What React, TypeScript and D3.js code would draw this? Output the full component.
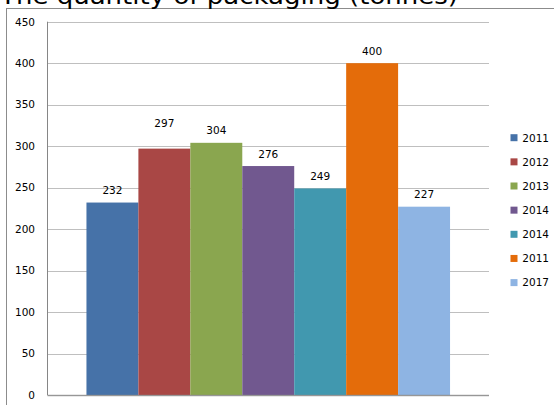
import React from "react";
import * as d3 from "d3";

// Chart data
const title = "The quantity of packaging (tonnes)";
const seriesNames = ["2011", "2012", "2013", "2014", "2014", "2011", "2017"];
const seriesValues = [232, 297, 304, 276, 249, 400, 227];
const seriesColors = ["#4672A8", "#A94745", "#8AA64F", "#71588F", "#4198AF", "#E46C0A", "#8EB4E3"];
const yTicks = [0, 50, 100, 150, 200, 250, 300, 350, 400, 450];
const category = "";

// Extra lift for labels that would otherwise crowd a neighbour
const labelLift = [0, 13, 0, 0, 0, 0, 0];

const W = 554;
const H = 405;
const FONT = "'DejaVu Sans', sans-serif";

export default function App() {
  const plotLeft = 47.5;
  const plotRight = 489;
  const plotTop = 21.7;
  const plotBottom = 395;

  const y = d3.scaleLinear().domain([0, 450]).range([plotBottom, plotTop]);

  // One category, seven series; gap width of 150% of a bar split on both sides
  const nSeries = seriesValues.length;
  const outer = d3
    .scaleBand<string>()
    .domain([category])
    .range([plotLeft, plotRight])
    .paddingInner(0)
    .paddingOuter(0.75 / nSeries);
  const inner = d3
    .scaleBand<number>()
    .domain(d3.range(nSeries))
    .range([0, outer.bandwidth()])
    .padding(0);

  const x0 = outer(category) ?? 0;

  const legendTop = 137.7;
  const legendStep = 24.15;

  return (
    <svg
      width={W}
      height={H}
      style={{ position: "fixed", left: 0, top: 0, background: "#fff" }}
      fontFamily={FONT}
    >
      {/* chart frame, extends beyond the visible area */}
      <rect x={6.5} y={8.5} width={W + 20} height={H + 20} fill="#fff" stroke="#8c8c8c" strokeWidth={1} />

      {/* title */}
      <text x={0} y={4} fontSize={22.5} fill="#000" textLength={458} lengthAdjust="spacingAndGlyphs">
        {title}
      </text>

      {/* gridlines */}
      {yTicks.map((t) => (
        <line
          key={"g" + t}
          x1={plotLeft}
          x2={plotRight}
          y1={Math.round(y(t)) + 0.5}
          y2={Math.round(y(t)) + 0.5}
          stroke="#bfbfbf"
          strokeWidth={1.2}
        />
      ))}

      {/* tick labels */}
      {yTicks.map((t) => (
        <text
          key={"t" + t}
          x={35}
          y={y(t) + 3.8}
          textAnchor="end"
          fontSize={10.5}
          fill="#000"
        >
          {t}
        </text>
      ))}

      {/* bars */}
      {seriesValues.map((v, i) => (
        <rect
          key={"b" + i}
          x={x0 + (inner(i) ?? 0)}
          y={y(v)}
          width={inner.bandwidth()}
          height={y(0) - y(v)}
          fill={seriesColors[i]}
        />
      ))}

      {/* value labels */}
      {seriesValues.map((v, i) => (
        <text
          key={"l" + i}
          x={x0 + (inner(i) ?? 0) + inner.bandwidth() / 2}
          y={y(v) - 8.5 - labelLift[i]}
          textAnchor="middle"
          fontSize={10.5}
          fill="#000"
        >
          {v}
        </text>
      ))}

      {/* axes */}
      <line x1={plotLeft} x2={plotLeft} y1={plotTop} y2={plotBottom} stroke="#868686" strokeWidth={1} />
      <line
        x1={plotLeft}
        x2={plotRight}
        y1={plotBottom + 0.5}
        y2={plotBottom + 0.5}
        stroke="#8a8a8a"
        strokeOpacity={0.75}
        strokeWidth={1.6}
      />

      {/* legend */}
      {seriesNames.map((name, i) => (
        <g key={"lg" + i} transform={`translate(510.5, ${legendTop + i * legendStep})`}>
          <rect x={0} y={-3.5} width={7} height={7} fill={seriesColors[i]} />
          <text x={11.8} y={3.8} fontSize={10.5} fill="#000">
            {name}
          </text>
        </g>
      ))}
    </svg>
  );
}
